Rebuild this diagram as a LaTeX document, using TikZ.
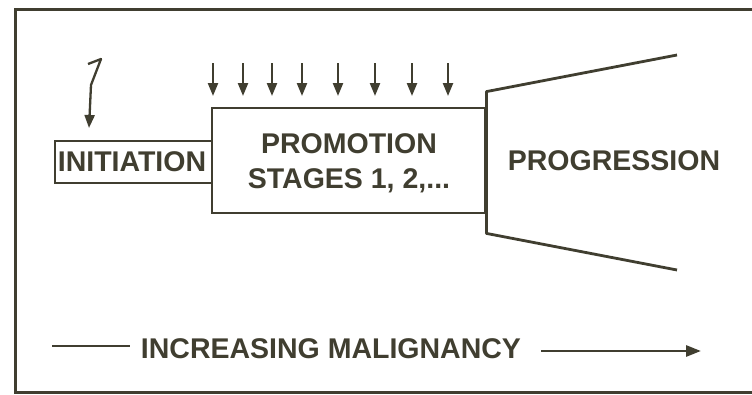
\documentclass[tikz,border=0pt]{standalone}
\usepackage{fontspec}
\setmainfont{Liberation Sans}
\usetikzlibrary{arrows.meta}
\definecolor{ink}{RGB}{64,62,48}
\begin{document}
\begin{tikzpicture}[x=1pt,y=-1pt,
  ink line/.style={draw=ink,line width=2.8pt},
  lbl/.style={text=ink,font=\bfseries\fontsize{28.5}{35}\selectfont,align=center,inner sep=0pt},
  boxnode/.style={draw=ink,line width=2.8pt,inner sep=0pt},
  down/.style={draw=ink,line width=2.3pt,-{Triangle[length=13pt,width=10pt]}},
  longarrow/.style={draw=ink,line width=2.8pt,-{Triangle[length=15pt,width=11pt]}}]
\useasboundingbox (0,0) rectangle (752,394);
\fill[white] (0,0) rectangle (752,394);
% frame
\draw[draw=ink,line width=3pt] (760,9) -- (15,9) -- (15,392) -- (760,392);
% initiation box
\node[boxnode,minimum width=157pt,minimum height=42pt] (ini) at (133.5,162) {};
\node[lbl] (initxt) at (132,162) {INITIATION};
% promotion box
\node[boxnode,minimum width=273pt,minimum height=105pt] (prom) at (348.5,160.5) {};
\node[lbl] (promtxt) at (349,163) {PROMOTION\\STAGES 1, 2,...};
% progression
\coordinate (pu) at (677,55);
\coordinate (pl) at (677,270);
\draw[ink line,line join=round] (pu) -- ([yshift=15pt]prom.north east) -- ([yshift=-19pt]prom.south east) -- (pl);
\node[lbl] (prog) at (614,161) {PROGRESSION};
% lightning arrow
\coordinate (b0) at (88,64);
\coordinate (b1) at (101,59);
\coordinate (b2) at (91,85);
\draw[down,line join=round] (b0) -- (b1) -- (b2) -- (89,128);
% promotion arrows
\foreach \i/\x in {1/213,2/243,3/272,4/302,5/338,6/375,7/412,8/448}{
  \coordinate (a\i) at (\x,63);
  \draw[down] (a\i) -- ++(0,33);
}
% malignancy
\node[lbl] (mal) at (331,349) {INCREASING MALIGNANCY};
\coordinate (ls) at (52,346);
\coordinate (le) at (130,346);
\coordinate (as) at (541,351);
\coordinate (ae) at (701,351);
\draw[draw=ink,line width=2.8pt] (ls) -- (le);
\draw[longarrow] (as) -- (ae);
\end{tikzpicture}
\end{document}
